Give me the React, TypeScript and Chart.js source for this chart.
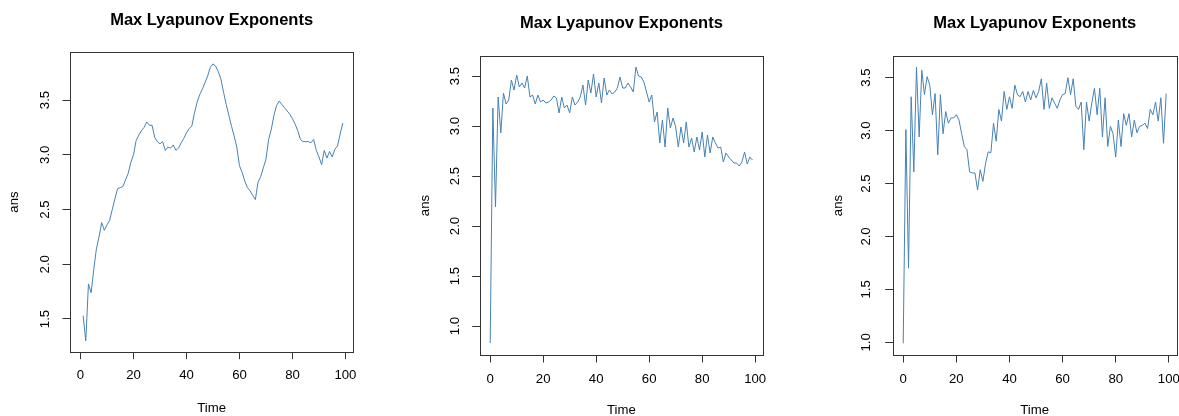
import React, { useEffect, useRef } from "react";
import { Chart, registerables } from "chart.js";

Chart.register(...registerables);

// ---------- data ----------
const CHART_TITLE = "Max Lyapunov Exponents";
const X_LABEL = "Time";
const Y_LABEL = "ans";
const X_TICK_LABELS = ["0", "20", "40", "60", "80", "100"];

const P1_Y_TICK_LABELS = ["1.5", "2.0", "2.5", "3.0", "3.5"];
const P2_Y_TICK_LABELS = ["1.0", "1.5", "2.0", "2.5", "3.0", "3.5"];
const P3_Y_TICK_LABELS = ["1.0", "1.5", "2.0", "2.5", "3.0", "3.5"];

const P1_START_TIME = 1;
const P2_START_TIME = 0;
const P3_START_TIME = 0;

const P1_VALUES = [
  1.53, 1.30, 1.82, 1.74, 1.95, 2.14, 2.25, 2.38, 2.31, 2.36,
  2.40, 2.50, 2.60, 2.69, 2.70, 2.71, 2.77, 2.83, 2.93, 3.00,
  3.13, 3.18, 3.22, 3.25, 3.30, 3.27, 3.27, 3.16, 3.12, 3.10,
  3.12, 3.04, 3.07, 3.06, 3.09, 3.04, 3.06, 3.11, 3.15, 3.20,
  3.24, 3.26, 3.38, 3.48, 3.55, 3.60, 3.66, 3.72, 3.80, 3.83,
  3.81, 3.76, 3.69, 3.57, 3.46, 3.36, 3.26, 3.17, 3.07, 2.90,
  2.84, 2.76, 2.70, 2.67, 2.63, 2.59, 2.75, 2.80, 2.88, 2.96,
  3.14, 3.23, 3.36, 3.45, 3.49, 3.46, 3.43, 3.40, 3.37, 3.33,
  3.28, 3.22, 3.14, 3.12, 3.12, 3.12, 3.11, 3.14, 3.04, 2.98,
  2.91, 3.04, 2.97, 3.03, 2.98, 3.05, 3.08, 3.19, 3.29,
];

const P2_VALUES = [
  0.83, 3.18, 2.19, 3.29, 2.93, 3.33, 3.22, 3.26, 3.46, 3.36,
  3.51, 3.39, 3.43, 3.38, 3.50, 3.29, 3.31, 3.22, 3.31, 3.24,
  3.26, 3.23, 3.24, 3.26, 3.30, 3.28, 3.13, 3.29, 3.18, 3.21,
  3.13, 3.29, 3.21, 3.24, 3.29, 3.41, 3.21, 3.46, 3.33, 3.52,
  3.29, 3.43, 3.23, 3.48, 3.31, 3.36, 3.32, 3.34, 3.38, 3.49,
  3.38, 3.38, 3.43, 3.39, 3.34, 3.59, 3.50, 3.49, 3.44, 3.34,
  3.24, 3.31, 3.04, 3.14, 2.83, 3.06, 2.79, 3.18, 2.98, 3.08,
  2.99, 2.79, 2.99, 2.83, 3.04, 2.79, 2.88, 2.74, 2.89, 2.76,
  2.94, 2.69, 2.91, 2.73, 2.89, 2.83, 2.78, 2.79, 2.64, 2.73,
  2.69, 2.66, 2.63, 2.63, 2.60, 2.64, 2.74, 2.62, 2.69, 2.66,
];

const P3_VALUES = [
  0.99, 3.01, 1.70, 3.32, 2.61, 3.60, 2.94, 3.57, 3.34, 3.51,
  3.43, 3.15, 3.35, 2.77, 3.34, 2.97, 3.18, 3.07, 3.12, 3.12,
  3.15, 3.10, 2.97, 2.85, 2.82, 2.61, 2.60, 2.60, 2.44, 2.63,
  2.52, 2.69, 2.80, 2.79, 3.07, 2.90, 3.20, 3.09, 3.37, 3.20,
  3.32, 3.21, 3.43, 3.34, 3.32, 3.37, 3.27, 3.37, 3.29, 3.38,
  3.31, 3.37, 3.49, 3.20, 3.45, 3.21, 3.31, 3.26, 3.21, 3.29,
  3.34, 3.35, 3.50, 3.34, 3.49, 3.23, 3.20, 3.27, 2.82, 3.27,
  3.09, 3.26, 3.40, 3.15, 3.40, 2.94, 3.31, 2.85, 3.04, 2.97,
  2.75, 3.10, 2.85, 3.16, 3.05, 3.16, 2.94, 3.10, 2.98, 3.04,
  3.05, 3.07, 3.02, 3.20, 3.15, 3.27, 3.09, 3.31, 2.88, 3.35,
];

// ---------- style / layout ----------
const FONT = '"Liberation Sans", Arial, Helvetica, sans-serif';
const TITLE_SIZE = 16.5;
const AXIS_SIZE = 13.2;
const TICK_LEN = 7.5;
const LINE_COLOR = "#4682B4";
const AXIS_COLOR = "#333333";
const CANVAS_H = 430;

type Layout = {
  left: number; width: number;
  areaLeft: number; areaRight: number; areaTop: number; areaBottom: number;
  titleY: number; yTitleX: number; yTickX: number; xTickY: number; xTitleY: number;
  xMin: number; xMax: number; yMin: number; yMax: number;
};

const LAYOUTS: Layout[] = [
  { left: 0, width: 380, areaLeft: 70, areaRight: 353.3, areaTop: 52.3, areaBottom: 351.7,
    titleY: 20.3, yTitleX: 14.7, yTickX: 45.8, xTickY: 375.8, xTitleY: 408.3,
    xMin: -3.96, xMax: 102.96, yMin: 1.201, yMax: 3.936 },
  { left: 393, width: 395, areaLeft: 479.7, areaRight: 763, areaTop: 56, areaBottom: 355,
    titleY: 23.4, yTitleX: 425.1, yTickX: 455, xTickY: 379, xTitleY: 410.8,
    xMin: -3.96, xMax: 102.96, yMin: 0.71, yMax: 3.70 },
  { left: 786, width: 420, areaLeft: 892.7, areaRight: 1176.7, areaTop: 56, areaBottom: 355,
    titleY: 23.4, yTitleX: 838.1, yTickX: 866.8, xTickY: 379, xTitleY: 410.8,
    xMin: -3.96, xMax: 102.96, yMin: 0.88, yMax: 3.705 },
];

const boxPlugin = {
  id: "rbox",
  afterDraw(chart: any) {
    const { ctx, chartArea: a } = chart;
    ctx.save();
    ctx.strokeStyle = AXIS_COLOR;
    ctx.lineWidth = 1;
    const l = Math.round(a.left) + 0.5;
    const t = Math.round(a.top) + 0.5;
    const r = Math.round(a.right) + 0.5;
    const b = Math.round(a.bottom) + 0.5;
    ctx.strokeRect(l, t, r - l, b - t);
    ctx.restore();
  },
};

function makeConfig(p: Layout, start: number, values: number[], yLabels: string[]) {
  const titleLH = TITLE_SIZE * 1.2;
  const axisLH = AXIS_SIZE * 1.2;
  const titlePadTop = p.titleY - titleLH / 2;
  const titlePadBottom = p.areaTop - titlePadTop - titleLH;
  const yAxisWidth = p.areaLeft - p.left;
  const rightPad = p.left + p.width - p.areaRight;
  const xAxisHeight = CANVAS_H - p.areaBottom;
  const widest = 1.39 * AXIS_SIZE;
  const yTickPad = p.areaLeft - p.yTickX - TICK_LEN - widest / 2;
  const xTickPad = p.xTickY - p.areaBottom - TICK_LEN - axisLH / 2;
  const yTitlePad = p.yTitleX - p.left - axisLH / 2;
  const xTitlePad = CANVAS_H - p.xTitleY - axisLH / 2;
  const axisFont = { family: FONT, size: AXIS_SIZE, lineHeight: 1.2 };

  return {
    type: "line" as const,
    data: {
      datasets: [
        {
          data: values.map((v, i) => ({ x: start + i, y: v })),
          borderColor: LINE_COLOR,
          borderWidth: 1,
          pointRadius: 0,
          fill: false,
          tension: 0,
        },
      ],
    },
    options: {
      animation: false as const,
      responsive: false,
      maintainAspectRatio: false,
      layout: { padding: { left: 0, right: rightPad, top: 0, bottom: 0 } },
      plugins: {
        legend: { display: false },
        tooltip: { enabled: false },
        title: {
          display: true,
          text: CHART_TITLE,
          color: "#000",
          fullSize: false,
          font: { family: FONT, size: TITLE_SIZE, weight: "bold" as const, lineHeight: 1.2 },
          padding: { top: titlePadTop, bottom: titlePadBottom },
        },
      },
      scales: {
        x: {
          type: "linear" as const,
          min: p.xMin,
          max: p.xMax,
          afterBuildTicks: (s: any) => {
            s.ticks = X_TICK_LABELS.map((l) => ({ value: Number(l) }));
          },
          afterFit: (s: any) => {
            s.height = xAxisHeight;
          },
          ticks: {
            autoSkip: false,
            maxRotation: 0,
            minRotation: 0,
            padding: xTickPad,
            color: "#000",
            font: axisFont,
            callback: (_v: any, i: number) => X_TICK_LABELS[i],
          },
          grid: { drawOnChartArea: false, drawTicks: true, tickLength: TICK_LEN, color: AXIS_COLOR, lineWidth: 1 },
          border: { display: false },
          title: { display: true, text: X_LABEL, color: "#000", font: axisFont, padding: { top: 0, bottom: xTitlePad } },
        },
        y: {
          type: "linear" as const,
          min: p.yMin,
          max: p.yMax,
          afterBuildTicks: (s: any) => {
            s.ticks = yLabels.map((l) => ({ value: Number(l) }));
          },
          afterFit: (s: any) => {
            s.width = yAxisWidth;
          },
          ticks: {
            autoSkip: false,
            minRotation: 90,
            maxRotation: 90,
            crossAlign: "center" as const,
            padding: yTickPad,
            color: "#000",
            font: axisFont,
            callback: (_v: any, i: number) => yLabels[i],
          },
          grid: { drawOnChartArea: false, drawTicks: true, tickLength: TICK_LEN, color: AXIS_COLOR, lineWidth: 1 },
          border: { display: false },
          title: { display: true, text: Y_LABEL, color: "#000", font: axisFont, padding: { top: yTitlePad, bottom: 0 } },
        },
      },
    },
    plugins: [boxPlugin],
  };
}

function Panel({ layout, start, values, yLabels }: { layout: Layout; start: number; values: number[]; yLabels: string[] }) {
  const ref = useRef<HTMLCanvasElement | null>(null);
  useEffect(() => {
    if (!ref.current) return;
    const chart = new Chart(ref.current, makeConfig(layout, start, values, yLabels) as any);
    return () => chart.destroy();
  }, [layout, start, values, yLabels]);
  return (
    <canvas
      ref={ref}
      width={layout.width}
      height={CANVAS_H}
      style={{ position: "absolute", left: layout.left, top: 0, width: layout.width, height: CANVAS_H }}
    />
  );
}

export default function App() {
  return (
    <div
      style={{
        position: "fixed",
        left: 0,
        top: 0,
        width: 1179,
        height: 416,
        overflow: "hidden",
        background: "#ffffff",
      }}
    >
      <Panel layout={LAYOUTS[0]} start={P1_START_TIME} values={P1_VALUES} yLabels={P1_Y_TICK_LABELS} />
      <Panel layout={LAYOUTS[1]} start={P2_START_TIME} values={P2_VALUES} yLabels={P2_Y_TICK_LABELS} />
      <Panel layout={LAYOUTS[2]} start={P3_START_TIME} values={P3_VALUES} yLabels={P3_Y_TICK_LABELS} />
    </div>
  );
}
